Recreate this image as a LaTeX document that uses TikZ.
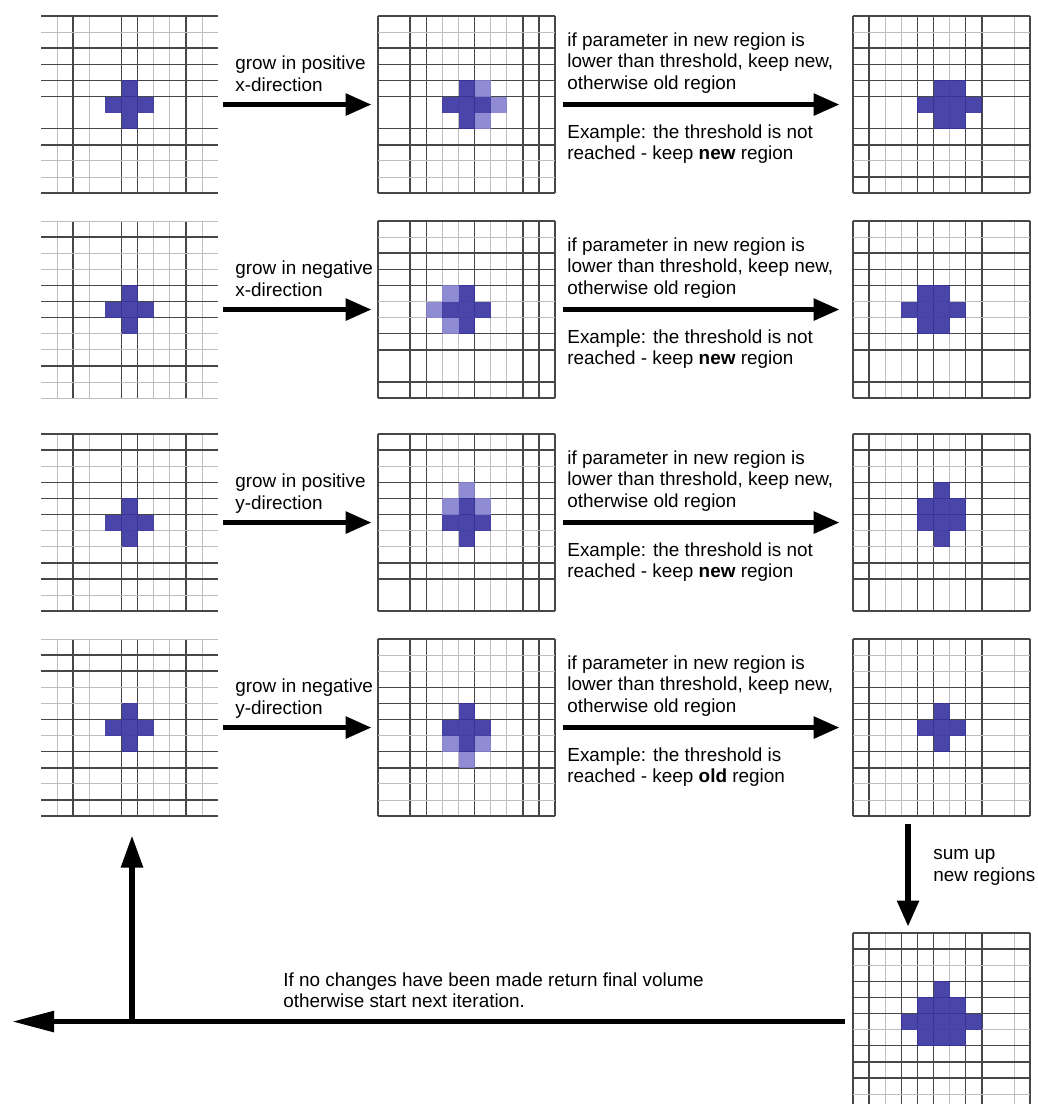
\documentclass[tikz,border=0pt]{standalone}
\usepackage{fontspec}
\setmainfont{Liberation Sans}
\usetikzlibrary{arrows.meta}
\definecolor{celldark}{RGB}{55,50,160}
\definecolor{celllight}{RGB}{132,128,208}
\newcommand{\gridlinesat}[4]{%
  \edef\myvlist{#3}\edef\myhlist{#4}%
  \foreach \i/\s in \myvlist {\draw[g\s] ({#1+\i*16.1},{#2}) -- ++(0,177.1);}
  \foreach \i/\s in \myhlist {\draw[g\s] ({#1},{#2+\i*16.1}) -- ++(177.1,0);}
}
\newcommand{\cellsdark}[3]{%
  \edef\myclist{#3}%
  \foreach \c/\r in \myclist {\fill[cdark] ({#1+\c*16.1},{#2+\r*16.1}) rectangle ++(16.1,16.1);}
}
\newcommand{\cellslight}[3]{%
  \edef\myclist{#3}%
  \foreach \c/\r in \myclist {\fill[clight] ({#1+\c*16.1},{#2+\r*16.1}) rectangle ++(16.1,16.1);}
}
\begin{document}
\begin{tikzpicture}[x=0.5pt,y=-0.5pt,
  gd/.style={draw=black!72, line width=0.75pt},
  gl/.style={draw=black!26, line width=0.5pt},
  gn/.style={draw=none},
  cdark/.style={fill=celldark, fill opacity=0.9},
  clight/.style={fill=celllight, fill opacity=0.9},
  gridbox/.style={draw=none, inner sep=0pt, minimum width=88.55pt, minimum height=88.55pt},
  bigarrow/.style={line width=2.8pt, -{Triangle[length=13pt,width=10.5pt]}},
  txt/.style={font=\fontsize{9.45}{10.75}\selectfont, align=left, inner sep=0pt, anchor=north west}]
\useasboundingbox (0,0) rectangle (1038,1104);
\clip (0,0) rectangle (1038,1104);
\fill[white] (0,0) rectangle (1038,1104);

% grid nodes
\node[gridbox] (g11) at (129.55,104.55) {};
\node[gridbox] (g12) at (466.55,104.55) {};
\node[gridbox] (g13) at (941.55,104.55) {};
\node[gridbox] (g21) at (129.55,309.55) {};
\node[gridbox] (g22) at (466.55,309.55) {};
\node[gridbox] (g23) at (941.55,309.55) {};
\node[gridbox] (g31) at (129.55,522.55) {};
\node[gridbox] (g32) at (466.55,522.55) {};
\node[gridbox] (g33) at (941.55,522.55) {};
\node[gridbox] (g41) at (129.55,727.55) {};
\node[gridbox] (g42) at (466.55,727.55) {};
\node[gridbox] (g43) at (941.55,727.55) {};
\node[gridbox] (g5)  at (941.55,1021.55) {};

% grid lines
\def\vA{0/n,1/l,2/d,3/l,4/n,5/d,6/d,7/l,8/l,9/d,10/l,11/n}
\def\vB{0/d,1/n,2/d,3/d,4/l,5/l,6/d,7/l,8/l,9/d,10/d,11/d}
\def\vC{0/d,1/d,2/l,3/l,4/d,5/d,6/l,7/d,8/d,9/n,10/l,11/d}
\def\vE{0/d,1/d,2/l,3/d,4/d,5/d,6/l,7/d,8/d,9/n,10/l,11/d}
\gridlinesat{41}{16}{\vA}{0/d,1/l,2/d,3/d,4/d,5/d,6/n,7/d,8/d,9/l,10/l,11/d}
\gridlinesat{41}{221}{\vA}{0/l,1/d,2/l,3/l,4/d,5/d,6/d,7/l,8/l,9/d,10/l,11/l}
\gridlinesat{41}{434}{\vA}{0/d,1/d,2/l,3/d,4/d,5/d,6/l,7/l,8/d,9/d,10/l,11/d}
\gridlinesat{41}{639}{\vA}{0/l,1/d,2/d,3/l,4/l,5/d,6/l,7/d,8/d,9/l,10/d,11/d}
\gridlinesat{378}{16}{\vB}{0/d,1/l,2/d,3/d,4/d,5/d,6/n,7/d,8/d,9/l,10/l,11/d}
\gridlinesat{378}{221}{\vB}{0/d,1/l,2/d,3/d,4/d,5/l,6/l,7/d,8/d,9/n,10/d,11/d}
\gridlinesat{378}{434}{\vB}{0/d,1/d,2/l,3/d,4/d,5/d,6/l,7/l,8/d,9/d,10/n,11/d}
\gridlinesat{378}{639}{\vB}{0/d,1/l,2/l,3/d,4/d,5/d,6/l,7/d,8/d,9/l,10/l,11/d}
\gridlinesat{853}{16}{\vC}{0/d,1/l,2/d,3/d,4/d,5/d,6/n,7/d,8/d,9/l,10/d,11/d}
\gridlinesat{853}{221}{\vC}{0/d,1/l,2/d,3/d,4/d,5/l,6/l,7/d,8/d,9/n,10/d,11/d}
\gridlinesat{853}{434}{\vC}{0/d,1/d,2/l,3/d,4/d,5/d,6/l,7/l,8/d,9/d,10/n,11/d}
\gridlinesat{853}{639}{\vC}{0/d,1/l,2/l,3/d,4/d,5/d,6/l,7/d,8/d,9/l,10/l,11/d}
\gridlinesat{853}{933}{\vE}{0/d,1/d,2/l,3/d,4/d,5/d,6/l,7/d,8/d,9/d,10/l,11/d}

% cells
\def\plus{5/4,4/5,5/5,6/5,5/6}
\cellsdark{41}{16}{\plus}
\cellsdark{378}{16}{\plus}
\cellslight{378}{16}{6/4,7/5,6/6}
\cellsdark{853}{16}{5/4,6/4,4/5,5/5,6/5,7/5,5/6,6/6}
\cellsdark{41}{221}{\plus}
\cellsdark{378}{221}{\plus}
\cellslight{378}{221}{4/4,3/5,4/6}
\cellsdark{853}{221}{4/4,5/4,3/5,4/5,5/5,6/5,4/6,5/6}
\cellsdark{41}{434}{\plus}
\cellsdark{378}{434}{\plus}
\cellslight{378}{434}{5/3,4/4,6/4}
\cellsdark{853}{434}{5/3,4/4,5/4,6/4,4/5,5/5,6/5,5/6}
\cellsdark{41}{639}{\plus}
\cellsdark{378}{639}{\plus}
\cellslight{378}{639}{4/6,6/6,5/7}
\cellsdark{853}{639}{\plus}
\cellsdark{853}{933}{5/3,4/4,5/4,6/4,3/5,4/5,5/5,6/5,7/5,4/6,5/6,6/6}

% arrows between columns
\foreach \r in {1,2,3,4} {
  \draw[bigarrow, shorten <=2pt, shorten >=3pt] (g\r1.east) -- (g\r2.west);
  \draw[bigarrow, shorten <=3.5pt, shorten >=6.5pt] (g\r2.east) -- (g\r3.west);
}
\draw[bigarrow, shorten <=3.5pt, shorten >=3pt] ([xshift=-16.75pt]g43.south) -- ([xshift=-16.75pt]g5.north);
\coordinate (ret) at (12,1021.55);
\coordinate (up) at (132,1021.55);
\draw[line width=2.8pt, -{Triangle[length=21pt,width=10pt]}, shorten <=4pt] (g5.west) -- (ret);
\draw[line width=2.8pt, -{Triangle[length=16pt,width=10.5pt]}, shorten >=9.5pt] (up) -- (up |- g41.south);

% texts
\node[txt] (t11) at (235,55.5) {grow in positive\\x-direction};
\node[txt] (t21) at (235,260.5) {grow in negative\\x-direction};
\node[txt] (t31) at (235,473.5) {grow in positive\\y-direction};
\node[txt] (t41) at (235,678.5) {grow in negative\\y-direction};
\foreach \r/\T in {1/16,2/221,3/434,4/639} {
  \node[txt] (t\r2) at (567,\T+16) {if parameter in new region is\\lower than threshold, keep new,\\otherwise old region};
}
\node[txt] (e1) at (567,124) {Example: the threshold is not\\reached - keep \textbf{new} region};
\node[txt] (e2) at (567,329) {Example: the threshold is not\\reached - keep \textbf{new} region};
\node[txt] (e3) at (567,542) {Example: the threshold is not\\reached - keep \textbf{new} region};
\node[txt] (e4) at (567,747) {Example: the threshold is\\reached - keep \textbf{old} region};
\node[txt] (sum) at (933,849) {sum up\\new regions};
\node[txt] (fin) at (283,972) {If no changes have been made return final volume\\otherwise start next iteration.};
\end{tikzpicture}
\end{document}
